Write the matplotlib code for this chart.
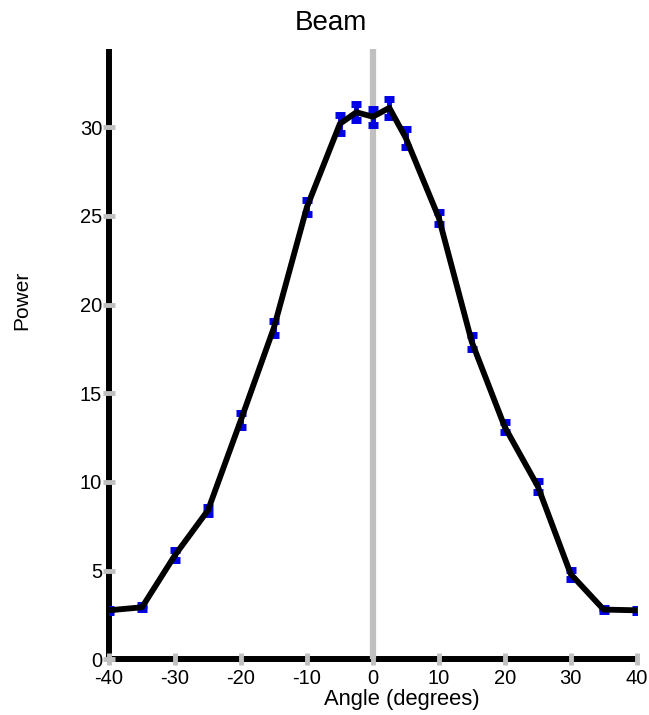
import matplotlib
matplotlib.use("Agg")
import matplotlib.pyplot as plt

angles = [-40, -35, -30, -25, -20, -15, -10, -5, -2.5, 0, 2.5, 5, 10, 15, 20, 25, 30, 35, 40]
power = [2.76, 2.93, 5.87, 8.4, 13.5, 18.7, 25.5, 30.2, 30.85, 30.6, 31.1, 29.4,
         24.9, 17.9, 13.1, 9.76, 4.8, 2.8, 2.76]
err = [0.1, 0.12, 0.3, 0.2, 0.4, 0.4, 0.4, 0.5, 0.45, 0.45, 0.5, 0.5,
       0.35, 0.4, 0.3, 0.3, 0.25, 0.1, 0.1]
xticks = [-40, -30, -20, -10, 0, 10, 20, 30, 40]
yticks = [0, 5, 10, 15, 20, 25, 30]

plt.rcParams['font.family'] = ['Liberation Sans', 'DejaVu Sans']
plt.rcParams['axes.unicode_minus'] = False

fig = plt.figure(figsize=(6.49, 7.15), dpi=100)
ax = fig.add_axes([0.168, 0.078, 0.813, 0.853])

ax.axvline(0, color='#c0c0c0', lw=4.5, zorder=1)
ax.errorbar(angles, power, yerr=err, fmt='none', ecolor='#0000e6',
            elinewidth=3.5, capsize=3.3, capthick=5, zorder=2)
ax.plot(angles, power, color='black', lw=4.2, zorder=3, solid_joinstyle='round')

ax.set_xlim(-40, 40)
ax.set_ylim(0, 34.4)
ax.set_xticks(xticks)
ax.set_yticks(yticks)

for s in ['top', 'right']:
    ax.spines[s].set_visible(False)
for s in ['left', 'bottom']:
    ax.spines[s].set_linewidth(4.3)
    ax.spines[s].set_color('black')
    ax.spines[s].set_zorder(0.5)
    ax.spines[s].set_capstyle('butt')

ax.tick_params(axis='both', direction='inout', length=8, width=3.5,
               color='#c0c0c0', labelsize=14.5, pad=1)
ax.tick_params(axis='x', pad=3)

fig.text(0.51, 0.968, 'Beam', fontsize=20, ha='center', va='center')
ax.set_ylabel('Power', fontsize=15)
ax.yaxis.set_label_coords(-0.148, 0.589)
ax.set_xlabel('Angle (degrees)', fontsize=15.8)
ax.xaxis.set_label_coords(0.555, -0.048)

fig.savefig('out.png', dpi=100)
